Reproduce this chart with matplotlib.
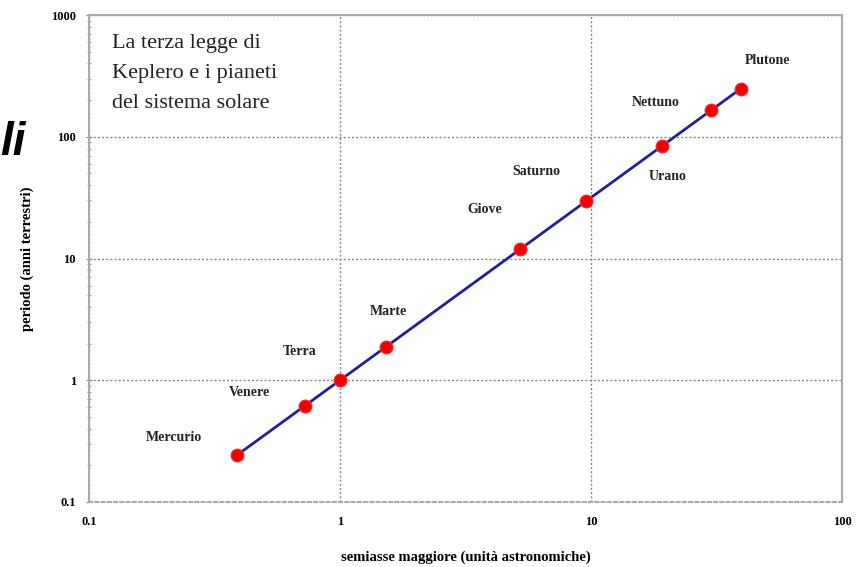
import matplotlib
matplotlib.use("Agg")
import matplotlib.pyplot as plt
from matplotlib.ticker import LogLocator, NullFormatter, FixedLocator, FixedFormatter

# dati: semiasse maggiore (UA) e periodo (anni)
pianeti = ["Mercurio", "Venere", "Terra", "Marte", "Giove", "Saturno", "Urano", "Nettuno", "Plutone"]
semiasse = [0.387, 0.723, 1.0, 1.524, 5.203, 9.537, 19.19, 30.07, 39.48]
periodo = [0.241, 0.615, 1.0, 1.881, 11.86, 29.46, 84.01, 164.8, 248.1]
xticks = [0.1, 1, 10, 100]
xtick_labels = ["0.1", "1", "10", "100"]
yticks = [0.1, 1, 10, 100, 1000]
ytick_labels = ["0.1", "1", "10", "100", "1000"]

# spostamento delle etichette (pixel)
offset = {"Mercurio": (-63, 18), "Venere": (-55, 13), "Terra": (-40, 29),
          "Marte": (2, 35), "Giove": (-35, 40), "Saturno": (-50, 30),
          "Urano": (6, -31), "Nettuno": (-55, 8), "Plutone": (27, 28)}

serif = "Liberation Serif"

fig = plt.figure(figsize=(8.63, 5.67), dpi=100)
ax = fig.add_axes([89/863, 1-502/567, (842-89)/863, (502-15)/567])

ax.set_xscale("log")
ax.set_yscale("log")
ax.set_xlim(0.1, 100)
ax.set_ylim(0.1, 1000)

ax.plot(semiasse, periodo, color="#1f1f9a", lw=2, zorder=3)
ax.plot(semiasse, periodo, "o", color="#ee0000", ms=9, mec="#ff2020", zorder=4)

for nome, x, y in zip(pianeti, semiasse, periodo):
    dx, dy = offset[nome]
    ax.annotate(nome, (x, y), xytext=(dx, dy), textcoords="offset pixels",
                ha="center", va="center", fontsize=10, family=serif,
                fontweight="bold", color="#222222")

ax.xaxis.set_major_locator(FixedLocator(xticks))
ax.xaxis.set_major_formatter(FixedFormatter(xtick_labels))
ax.yaxis.set_major_locator(FixedLocator(yticks))
ax.yaxis.set_major_formatter(FixedFormatter(ytick_labels))
ax.xaxis.set_minor_locator(LogLocator(base=10, subs=range(2, 10)))
ax.yaxis.set_minor_locator(LogLocator(base=10, subs=range(2, 10)))
ax.xaxis.set_minor_formatter(NullFormatter())
ax.yaxis.set_minor_formatter(NullFormatter())

ax.grid(True, which="major", ls=(0, (1.5, 1.5)), color="#888888", lw=1)
ax.tick_params(which="both", direction="inout", color="#888888", labelsize=9,
               pad=7)
ax.tick_params(which="major", length=5)
ax.tick_params(which="minor", length=3)
ax.tick_params(axis="x", which="both", length=0, pad=10)
for lab in ax.get_xticklabels() + ax.get_yticklabels():
    lab.set_family(serif)
    lab.set_fontweight("bold")
for s in ax.spines.values():
    s.set_color("#aaaaaa")
    s.set_linewidth(1.5)
ax.spines["bottom"].set_linestyle((0, (1.5, 1.5)))

ax.set_xlabel("semiasse maggiore (unità astronomiche)", family=serif,
              fontsize=10.5, fontweight="bold", labelpad=16)
ax.set_ylabel("periodo (anni terrestri)", family=serif, fontsize=10.5,
              fontweight="bold", labelpad=12)

ax.text(23/753, 1-19/487, "La terza legge di\nKeplero e i pianeti\ndel sistema solare",
        transform=ax.transAxes, ha="left", va="top", family=serif,
        fontsize=16, linespacing=1.8, color="#222222")

fig.text(0.0, 1-143/567, "li", family="Liberation Sans", fontsize=33,
         fontweight="bold", style="italic", ha="left", va="center")

fig.savefig("out.png", dpi=100)
